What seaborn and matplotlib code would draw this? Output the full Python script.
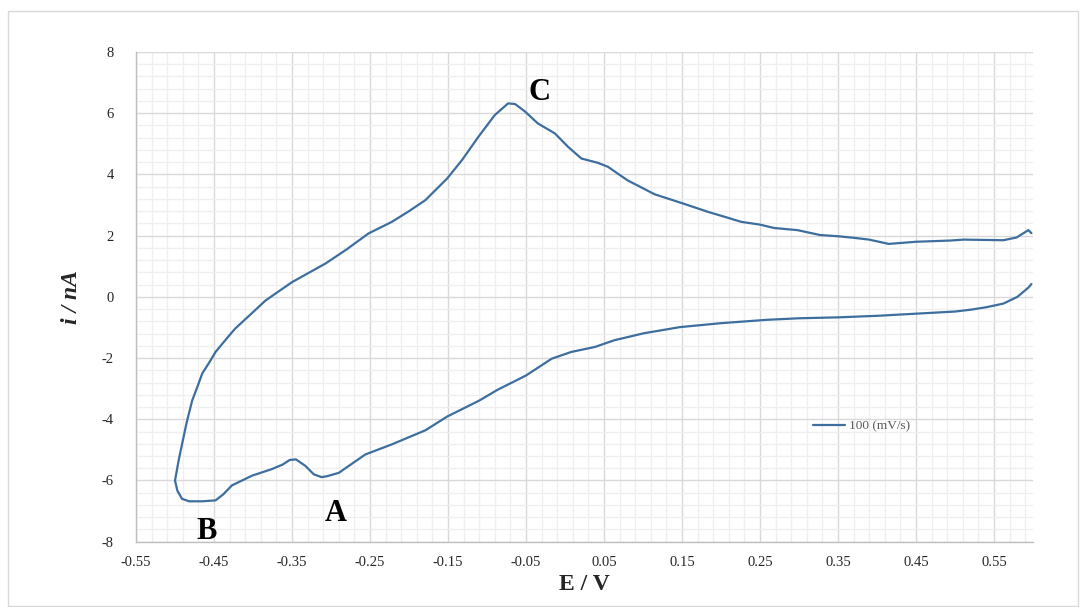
import numpy as np
import pandas as pd
import matplotlib
matplotlib.use("Agg")
import matplotlib.pyplot as plt
from matplotlib.ticker import MultipleLocator, FixedLocator
from matplotlib.patches import Rectangle
import seaborn as sns

# ---- data ----
fwd_E = [-0.500, -0.495, -0.490, -0.485, -0.478, -0.470, -0.465, -0.455, -0.448, -0.435,
         -0.423, -0.400, -0.384, -0.350, -0.307, -0.280, -0.252, -0.222, -0.200, -0.179,
         -0.151, -0.132, -0.111, -0.090, -0.073, -0.064, -0.051, -0.035, -0.013, 0.004,
         0.021, 0.042, 0.055, 0.080, 0.115, 0.149, 0.183, 0.208, 0.226, 0.250,
         0.268, 0.298, 0.327, 0.350, 0.370, 0.390, 0.415, 0.450, 0.494, 0.511,
         0.562, 0.579, 0.594, 0.598]
fwd_i = [-6.00, -5.30, -4.70, -4.10, -3.39, -2.85, -2.50, -2.10, -1.80, -1.40,
         -1.04, -0.50, -0.12, 0.48, 1.09, 1.55, 2.07, 2.45, 2.80, 3.16,
         3.87, 4.47, 5.23, 5.94, 6.32, 6.30, 6.05, 5.67, 5.34, 4.90,
         4.52, 4.38, 4.25, 3.81, 3.35, 3.07, 2.78, 2.59, 2.45, 2.36,
         2.25, 2.18, 2.02, 1.98, 1.93, 1.87, 1.73, 1.80, 1.84, 1.87,
         1.85, 1.94, 2.18, 2.08]

rev_E = [0.598, 0.594, 0.580, 0.562, 0.540, 0.520, 0.500, 0.450, 0.400, 0.350,
         0.300, 0.259, 0.200, 0.147, 0.101, 0.063, 0.038, 0.008, -0.017, -0.050,
         -0.086, -0.110, -0.151, -0.179, -0.222, -0.256, -0.290, -0.305, -0.312, -0.322,
         -0.333, -0.345, -0.353, -0.362, -0.376, -0.401, -0.427, -0.438, -0.448, -0.465,
         -0.482, -0.491, -0.497, -0.500]
rev_i = [0.42, 0.30, 0.00, -0.22, -0.34, -0.42, -0.48, -0.55, -0.62, -0.67,
         -0.70, -0.75, -0.86, -0.99, -1.19, -1.42, -1.64, -1.80, -2.02, -2.57,
         -3.03, -3.39, -3.91, -4.36, -4.82, -5.15, -5.75, -5.86, -5.89, -5.80,
         -5.52, -5.31, -5.33, -5.48, -5.63, -5.84, -6.16, -6.45, -6.65, -6.68,
         -6.68, -6.60, -6.33, -6.00]

x_ticks = [-0.55, -0.45, -0.35, -0.25, -0.15, -0.05, 0.05, 0.15, 0.25, 0.35, 0.45, 0.55]
x_tick_labels = ["-0.55", "-0.45", "-0.35", "-0.25", "-0.15", "-0.05",
                 "0.05", "0.15", "0.25", "0.35", "0.45", "0.55"]
y_ticks = [-8, -6, -4, -2, 0, 2, 4, 6, 8]
y_tick_labels = ["-8", "-6", "-4", "-2", "0", "2", "4", "6", "8"]
peak_labels = ["A", "B", "C"]
peak_E = [-0.294, -0.459, -0.033]
peak_i = [-7.08, -7.67, 6.69]
series_name = "100 (mV/s)"

# ---- style ----
sns.set_style("white")
plt.rcParams["font.family"] = ["Liberation Serif", "DejaVu Serif"]
plt.rcParams["axes.unicode_minus"] = False

fig = plt.figure(figsize=(10.81, 6.07), dpi=100)
ax = fig.add_axes([136 / 1081, 1 - 541.7 / 607, (1033 - 136) / 1081, (541.7 - 52) / 607])

# outer chart border
fig.patches.append(Rectangle((8 / 1081, 1 / 607), (1078 - 8) / 1081, (596 - 1) / 607,
                             transform=fig.transFigure, fill=False,
                             edgecolor="#d9d9d9", linewidth=1.0))

line_color = "#3d6e9e"
df_f = pd.DataFrame({"E": fwd_E, "i": fwd_i})
df_r = pd.DataFrame({"E": rev_E, "i": rev_i})
sns.lineplot(data=df_f, x="E", y="i", sort=False, estimator=None, ax=ax,
             color=line_color, linewidth=1.6, label=series_name)
sns.lineplot(data=df_r, x="E", y="i", sort=False, estimator=None, ax=ax,
             color=line_color, linewidth=1.6, legend=False)
for ln in ax.lines:
    ln.set_solid_joinstyle("round")
    ln.set_solid_capstyle("round")

ax.set_xlim(-0.55, 0.6)
ax.set_ylim(-8, 8)
ax.xaxis.set_major_locator(FixedLocator(x_ticks))
ax.set_xticklabels(x_tick_labels)
ax.xaxis.set_minor_locator(FixedLocator(np.round(np.arange(-0.53, 0.6, 0.02), 3)))
ax.yaxis.set_major_locator(FixedLocator(y_ticks))
ax.set_yticklabels(y_tick_labels)
ax.yaxis.set_minor_locator(MultipleLocator(0.4))

ax.grid(which="major", color="#d9d9d9", linewidth=1.0)
ax.grid(which="minor", color="#efefef", linewidth=0.9)
ax.set_axisbelow(True)

for s in ["top", "right"]:
    ax.spines[s].set_visible(False)
for s in ["left", "bottom"]:
    ax.spines[s].set_color("#bfbfbf")
    ax.spines[s].set_linewidth(1.0)

ax.tick_params(axis="both", which="major", length=4, width=1.0, color="#bfbfbf",
               labelsize=10.5, labelcolor="#262626", pad=6, direction="out")
ax.tick_params(axis="both", which="minor", length=0)
ax.tick_params(axis="y", pad=12)

ax.set_xlabel("E / V", fontsize=17, fontweight="bold", labelpad=4)
ax.set_ylabel("i / nA", fontsize=17, fontweight="bold", fontstyle="italic", labelpad=14)

for lab, xe, yi in zip(peak_labels, peak_E, peak_i):
    ax.text(xe, yi, lab, fontsize=22, fontweight="bold", ha="center", va="center",
            color="black")

leg = ax.legend(loc="center left", bbox_to_anchor=((813 - 136) / 897, (541.7 - 426) / 489.7),
                frameon=False, fontsize=9.5, handlelength=2.4, handletextpad=0.3,
                borderpad=0, borderaxespad=0)
for t in leg.get_texts():
    t.set_color("#595959")

fig.savefig("out.png", dpi=100)
